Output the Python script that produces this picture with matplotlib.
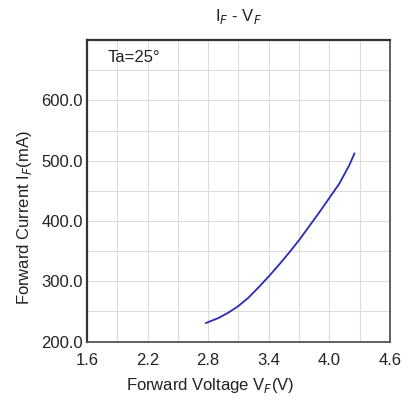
import numpy as np
from matplotlib import pyplot as plt

# values
voltage = [2.78, 2.90, 3.00, 3.10, 3.20, 3.30, 3.40, 3.50, 3.60, 3.70,
           3.80, 3.90, 4.00, 4.10, 4.20, 4.25]
current = [231, 239, 248, 259, 273, 290, 308, 327, 347, 368,
           391, 414, 438, 462, 493, 512]

x_ticks = [1.6, 2.2, 2.8, 3.4, 4.0, 4.6]
y_ticks = [200, 300, 400, 500, 600]

plt.rcParams['font.family'] = ['Liberation Sans', 'DejaVu Sans']

fig = plt.figure(figsize=(4.16, 4.01), dpi=100)
ax = fig.add_axes([0.209, 0.148, 0.728, 0.752])

ax.plot(voltage, current, color='#2a2ab8', linewidth=1.3)

ax.set_xlim(1.6, 4.6)
ax.set_ylim(200, 700)
ax.set_xticks(x_ticks)
ax.set_xticklabels([f"{v:.1f}" for v in x_ticks])
ax.set_yticks(y_ticks)
ax.set_yticklabels([f"{v:.1f}" for v in y_ticks])
ax.set_xticks(np.arange(1.6, 4.61, 0.3), minor=True)
ax.set_yticks(np.arange(200, 701, 50), minor=True)
ax.grid(which='both', color='#dcdcdc', linewidth=0.8)
ax.tick_params(which='both', length=0, labelsize=12, colors='#222222')
ax.tick_params(axis='x', pad=8)
ax.tick_params(axis='y', pad=3)

for side in ['top', 'left']:
    ax.spines[side].set_linewidth(1.6)
    ax.spines[side].set_color('#333333')
for side in ['bottom', 'right']:
    ax.spines[side].set_linewidth(1.3)
    ax.spines[side].set_color('#555555')

ax.text(0.069, 0.967, "Ta=25°", transform=ax.transAxes, fontsize=12,
        va='top', ha='left', color='#222222')

ax.set_title("I$_{F}$ - V$_{F}$", fontsize=12, pad=14, color='#222222')
ax.set_xlabel("Forward Voltage V$_{F}$(V)", fontsize=12, color='#222222')
ax.set_ylabel("Forward Current I$_{F}$(mA)", fontsize=12, color='#222222')
ax.xaxis.set_label_coords(0.406, -0.146)
ax.xaxis.label.set_va('center')
ax.yaxis.set_label_coords(-0.205, 0.41)
ax.yaxis.label.set_va('center')
ax.yaxis.label.set_ha('center')

fig.savefig("out.png", dpi=100)
